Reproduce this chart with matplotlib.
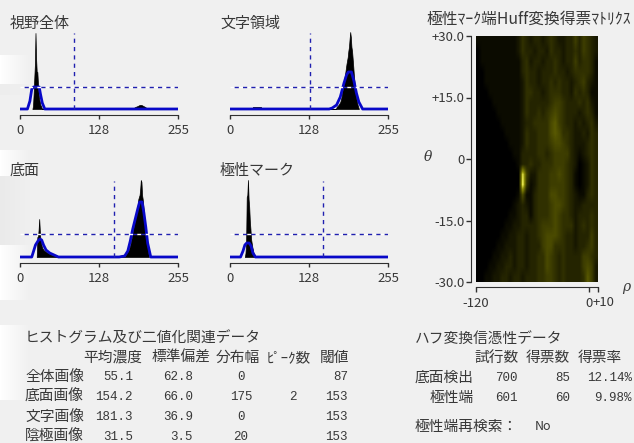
import numpy as np
import matplotlib
matplotlib.use("Agg")
import matplotlib.pyplot as plt
from matplotlib.colors import LinearSegmentedColormap

plt.rcParams['font.family'] = ['Noto Sans CJK JP', 'DejaVu Sans']

W, H = 634, 443
BG = '#f0f0f0'
TXT = '#383838'
BLUE = '#0808c8'

# histograms: black area (bin, count) and the blue fitted curve
h1_bins = [20,21,22,23,24,25,26,27,28,29,30,31,32,33,34,35,36, 181,186,190,193,196,199,202,206]
h1_vals = [0,3,15,30,44,76,50,37,37,25,15,10,7,4,3,1,0, 0,2,3,4,4,3,2,0]
h1_cx = [0,12,16,19,22,31,33,36,40,255]
h1_cy = [0,0,8,20,22,22,15,6,0,0]
h1_thr = (87, 22)

h2_bins = [36,37,50,51, 171,172,175,178,180,182,184,186,188,190,191,192,193,194,195,196,197,198,199,200,202,204,206,208]
h2_vals = [0,2,2,0, 0,2,4,7,12,20,28,36,45,52,58,62,70,77,72,62,58,50,42,33,20,10,4,0]
h2_cx = [0,160,165,172,178,184,188,191,196,200,204,208,214,255]
h2_cy = [0,0,1,4,12,26,34,37,37,28,16,7,0,0]
h2_thr = (129, 22)

h3_bins = [27,28,29,30,31,32,33,34,35,36,38,40,42,45,48,52,56,60,61,
           151,152,160,168,175,178,180,182,184,186,188,190,191,192,193,194,195,196,197,198,199,200,202,204,206,208]
h3_vals = [0,20,20,27,38,26,17,14,11,9,7,6,5,4,3,2,2,1,0,
           0,1,1,2,6,12,18,25,32,38,44,52,58,60,62,68,77,75,62,58,52,44,30,18,8,0]
h3_cx = [0,19,22,25,29,32,35,38,42,48,55,62,160,169,174,178,182,186,190,193,197,200,203,206,211,255]
h3_cy = [0,0,6,12,16,18,17,12,7,4,2,0,0,1,6,16,28,38,48,55,55,44,30,14,0,0]
h3_thr = (152, 23)

h4_bins = [24,25,26,27,28,29,30,31,32,33,34,35,36,37,38,39,40,41,42]
h4_vals = [0,4,14,60,62,77,58,50,36,28,18,14,10,7,4,3,2,1,0]
h4_cx = [0,17,21,24,27,31,34,37,41,255]
h4_cy = [0,0,6,12,14,14,11,4,0,0]
h4_thr = (150, 23)

# vote matrix read by eye, one hex digit per cell, rows from theta=+30 down
votes = [
    "111111111124323323432233535432",
    "011111111124332332433233435432",
    "011111111113423323343233534431",
    "001111111113433233343323444431",
    "001111111112433233434332345321",
    "000111111112443323444332434311",
    "000011111112433333455433343421",
    "000001111112433434565433323431",
    "000000111112334444675433232342",
    "000000011112433444676443223243",
    "000000001112433444566543222343",
    "000000000113333443455553212343",
    "000000000013343344455543201243",
    "00000000000e522444556543101243",
    "00000000000f412444555543101243",
    "000000000016113444665543211343",
    "000000000123213444566543223333",
    "000000001123313444565443233343",
    "000000011223333455565444234343",
    "000000112233233456665433233353",
    "000001122233233356644433233453",
    "000011223233233446543433335543",
    "000112233233233446543433335652",
    "001122332332333445543433334752",
]

table_cols = ['平均濃度', '標準偏差', '分布幅', 'ﾋﾟｰｸ数', '閾値']
table_rows = ['全体画像', '底面画像', '文字画像', '陰極画像']
mean_vals = ['55.1', '154.2', '181.3', '31.5']
std_vals = ['62.8', '66.0', '36.9', '3.5']
width_vals = ['0', '175', '0', '20']
peak_vals = ['', '2', '', '']
thr_vals = ['87', '153', '153', '153']

hough_cols = ['試行数', '得票数', '得票率']
hough_rows = ['底面検出', '極性端']
trial_vals = ['700', '601']
vote_vals = ['85', '60']
rate_vals = ['12.14%', '9.98%']

fig = plt.figure(figsize=(W / 100, H / 100), dpi=100, facecolor=BG)


def px_axes(x0, y0, x1, y1):
    return fig.add_axes([x0 / W, 1 - y1 / H, (x1 - x0) / W, (y1 - y0) / H])


def px_text(x, y, s, size=10, ha='left', **kw):
    fig.text(x / W, 1 - y / H, s, fontsize=size, ha=ha, va='center', color=TXT, **kw)


# pale bands on the left edge of the screenshot
bg_ax = px_axes(0, 0, 40, H)
bg_ax.axis('off')
band = np.zeros((H, 40, 4))
fade = np.clip(1 - np.arange(40) / 30, 0, 1)
for top, bottom, col in [(55, 84, 1.0), (84, 95, 0.93), (150, 176, 1.0), (176, 245, 0.92),
                         (245, 300, 1.0), (325, 400, 1.0)]:
    band[top:bottom, :, :3] = col
    band[top:bottom, :, 3] = fade
bg_ax.imshow(band, aspect='auto', interpolation='bilinear')


def hist_panel(x0, base_y, axis_y, bins, vals, cx, cy, thr, title, title_y):
    top = base_y - 80
    ax = px_axes(x0, top, x0 + 158, axis_y)
    ax.set_facecolor('none')
    ax.set_xlim(0, 255)
    ax.set_ylim(base_y - axis_y, base_y - top)
    ax.fill_between(bins, vals, color='black', lw=0.5, zorder=2)
    ax.plot(cx, cy, color=BLUE, lw=2, zorder=3)
    ax.plot([0, 255], [thr[1], thr[1]], color='white', lw=1, ls=(0, (3, 3)), zorder=4)
    ax.plot([0, 255], [thr[1], thr[1]], color='#2020b0', lw=1, ls=(3, (3, 3)), zorder=4)
    ax.plot([thr[0], thr[0]], [0, 76], color='#2020b0', lw=1, ls=(0, (3, 3)), zorder=4)
    for s in ['top', 'left', 'right']:
        ax.spines[s].set_visible(False)
    ax.spines['bottom'].set_color('#303030')
    ax.set_yticks([])
    ax.set_xticks([0, 128, 255])
    ax.tick_params(axis='x', length=3, width=1, color='#303030', labelsize=9.5, labelcolor=TXT, pad=3.5)
    px_text(x0 - 10, title_y, title, size=10.8)


hist_panel(20, 109, 115, h1_bins, h1_vals, h1_cx, h1_cy, h1_thr, '視野全体', 24)
hist_panel(230, 109, 115, h2_bins, h2_vals, h2_cx, h2_cy, h2_thr, '文字領域', 24)
hist_panel(20, 257, 263, h3_bins, h3_vals, h3_cx, h3_cy, h3_thr, '底面', 171)
hist_panel(230, 257, 263, h4_bins, h4_vals, h4_cx, h4_cy, h4_thr, '極性マーク', 171)

# Hough vote matrix
matrix = np.array([[int(c, 16) for c in row] for row in votes], dtype=float)
cmap = LinearSegmentedColormap.from_list('votes', [(0, '#000000'), (0.07, '#0c0c00'), (0.2, '#242400'),
                                                   (0.4, '#4a4a00'), (0.7, '#8c8c08'), (1, '#ffff60')])
ax = px_axes(476, 36, 598, 282)
ax.imshow(matrix, cmap=cmap, vmin=0, vmax=15, extent=[-120, 10, -30, 30], aspect='auto', interpolation='bilinear')
ax.set_xticks([-120, 0, 10])
ax.set_xticklabels(['-120', '0', ''])
ax.set_yticks([30, 15, 0, -15, -30])
ax.set_yticklabels(['+30.0', '+15.0', '0', '-15.0', '-30.0'])
for s in ['top', 'right']:
    ax.spines[s].set_visible(False)
for s in ['left', 'bottom']:
    ax.spines[s].set_position(('outward', 3.5))
    ax.spines[s].set_color('#303030')
ax.tick_params(length=3.5, width=1, color='#303030', labelsize=9.5, labelcolor=TXT, pad=1.5)
ax.tick_params(axis='x', pad=3.5)
px_text(593, 303, '+10', size=9.5)
px_text(426, 19, '極性ﾏｰｸ端Huff変換得票ﾏﾄﾘｸｽ', size=11.3)
px_text(424, 157, 'θ', size=10, style='italic', family='DejaVu Serif')
px_text(622, 287, 'ρ', size=10, style='italic', family='DejaVu Serif')

# left table
MONO = 'Liberation Mono'
px_text(25, 339, 'ヒストグラム及び二値化関連データ', size=10.6)
for label, cx in zip(table_cols, [113, 181, 238, 289, 334]):
    px_text(cx, 358, label, size=10.6, ha='center')
for i, row in enumerate(table_rows):
    y = 377 + i * 20
    px_text(25, y, row, size=10.6)
    px_text(133, y, mean_vals[i], size=9, ha='right', family=MONO)
    px_text(193, y, std_vals[i], size=9, ha='right', family=MONO)
    px_text(241, y, width_vals[i], size=9, ha='center', family=MONO)
    px_text(293, y, peak_vals[i], size=9, ha='center', family=MONO)
    px_text(348, y, thr_vals[i], size=9, ha='right', family=MONO)

# right table
px_text(415, 339, 'ハフ変換信憑性データ', size=10.6)
for label, cx in zip(hough_cols, [497, 548, 600]):
    px_text(cx, 358, label, size=10.6, ha='center')
for i, row in enumerate(hough_rows):
    y = 378 + i * 20
    px_text(474, y, row, size=10.6, ha='right')
    px_text(518, y, trial_vals[i], size=9, ha='right', family=MONO)
    px_text(570, y, vote_vals[i], size=9, ha='right', family=MONO)
    px_text(632, y, rate_vals[i], size=9, ha='right', family=MONO)
px_text(415, 427, '極性端再検索：', size=10.6)
px_text(535, 427, 'No', size=9)

fig.savefig('out.png', dpi=100, facecolor=BG)
